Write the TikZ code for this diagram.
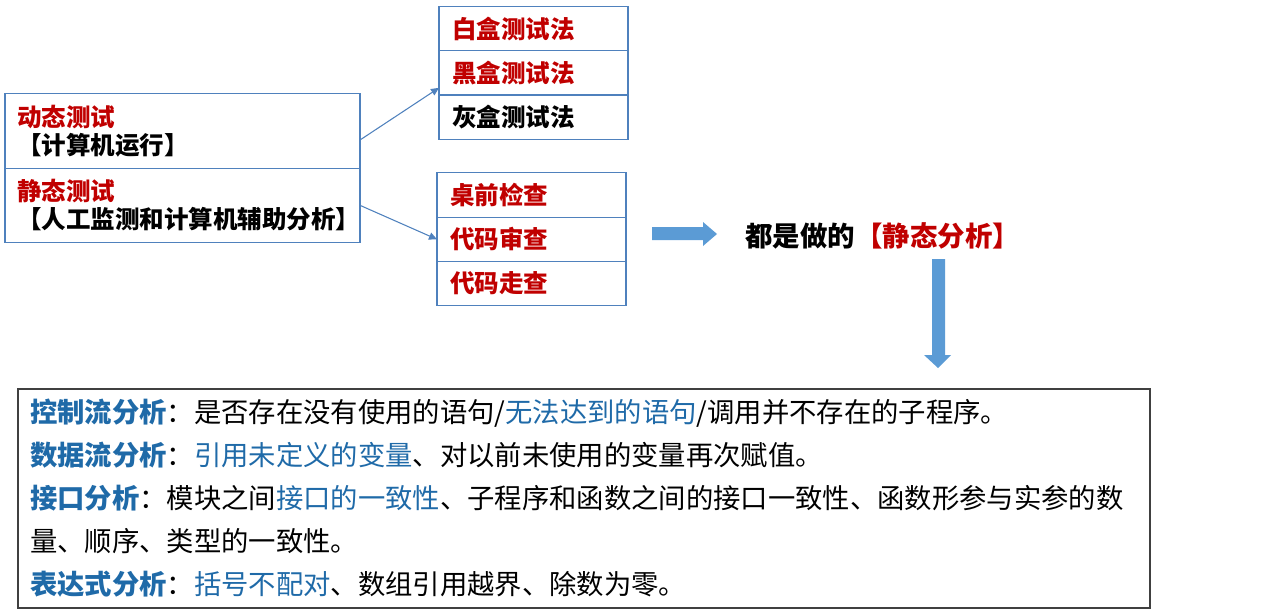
\documentclass[tikz,border=0pt]{standalone}
\usepackage{fontspec}
\setmainfont{Noto Sans CJK SC}
\usetikzlibrary{arrows.meta, positioning, calc}
\definecolor{dred}{RGB}{192, 0, 0}
\definecolor{bline}{RGB}{79, 129, 189}
\definecolor{bfill}{RGB}{91, 155, 213}
\definecolor{btext}{RGB}{31, 106, 168}

\begin{document}
\begin{tikzpicture}[
  x=0.75pt, y=-0.75pt,
  node distance=0pt,
  cell/.style={rectangle, draw=bline, line width=0.9pt, outer sep=0pt,
               inner xsep=9.75pt, inner ysep=0pt,
               minimum width=141.75pt, minimum height=33.25pt,
               text width=122.25pt, align=left,
               font=\fontsize{18.4}{22}\selectfont\bfseries},
  kind/.style={rectangle, draw=bline, line width=0.9pt, outer sep=0pt,
               inner xsep=9pt, inner ysep=0pt,
               minimum width=266.25pt, minimum height=55.75pt,
               text width=248.25pt, align=left,
               font=\fontsize{18.4}{21}\selectfont\bfseries},
  arr/.style={-{Triangle[length=6pt, width=5.5pt]}, draw=bline, line width=0.8pt},
  blockarr/.style={fill=bfill, draw=none},
  lab/.style={text=btext, font=\bfseries}
]
  \useasboundingbox (0,0) rectangle (1287,615);

  % left: the two kinds of testing
  \node[kind] (dyn) at (182.5,131)
    {\textcolor{dred}{动态测试}\\【计算机运行】};
  \node[kind, below=of dyn] (sta)
    {\textcolor{dred}{静态测试}\\【人工监测和计算机辅助分析】};

  % right, top: dynamic methods
  \node[cell, text=dred] (wb) at (533.5,28.5) {白盒测试法};
  \node[cell, text=dred, below=of wb] (bb) {黑盒测试法};
  \node[cell, below=of bb] (gb) {灰盒测试法};

  % right, bottom: static methods
  \node[cell, text=dred] (dc) at (531.5,195) {桌前检查};
  \node[cell, text=dred, below=of dc] (dm) {代码审查};
  \node[cell, text=dred, below=of dm] (dw) {代码走查};

  \draw[arr] ($(dyn.east)+(0,9)$) -- ($(bb.west)+(0,15)$);
  \draw[arr] (sta.east) -- (dm.west);

  \node[anchor=west, inner sep=0pt, font=\fontsize{20.6}{24}\selectfont\bfseries] (concl)
    at (745,236) {都是做的\textcolor{dred}{【静态分析】}};

  % block arrows
  \fill[blockarr] (652,227) -- (703,227) -- (703,222) -- (717,234)
    -- (703,246) -- (703,240) -- (652,240) -- cycle;
  \fill[blockarr] (932,259) -- (945,259) -- (945,355) -- (951,355)
    -- (938,368) -- (924,355) -- (932,355) -- cycle;

  % bottom: what static analysis checks
  \node[rectangle, draw=black!75, line width=0.8pt, outer sep=0pt,
        inner xsep=9pt, inner ysep=0pt,
        minimum width=849pt, minimum height=164.25pt,
        text width=831pt, align=left,
        font=\fontsize{20.5}{32.25}\selectfont] (ana) at (584,498.5)
    {\textcolor{btext}{\bfseries 控制流分析}：是否存在没有使用的语句/\textcolor{btext}{无法达到的语句}/调用并不存在的子程序。\\
     \textcolor{btext}{\bfseries 数据流分析}：\textcolor{btext}{引用未定义的变量}、对以前未使用的变量再次赋值。\\
     \textcolor{btext}{\bfseries 接口分析}：模块之间\textcolor{btext}{接口的一致性}、子程序和函数之间的接口一致性、函数形参与实参的数\\
     量、顺序、类型的一致性。\\
     \textcolor{btext}{\bfseries 表达式分析}：\textcolor{btext}{括号不配对}、数组引用越界、除数为零。};
\end{tikzpicture}
\end{document}
